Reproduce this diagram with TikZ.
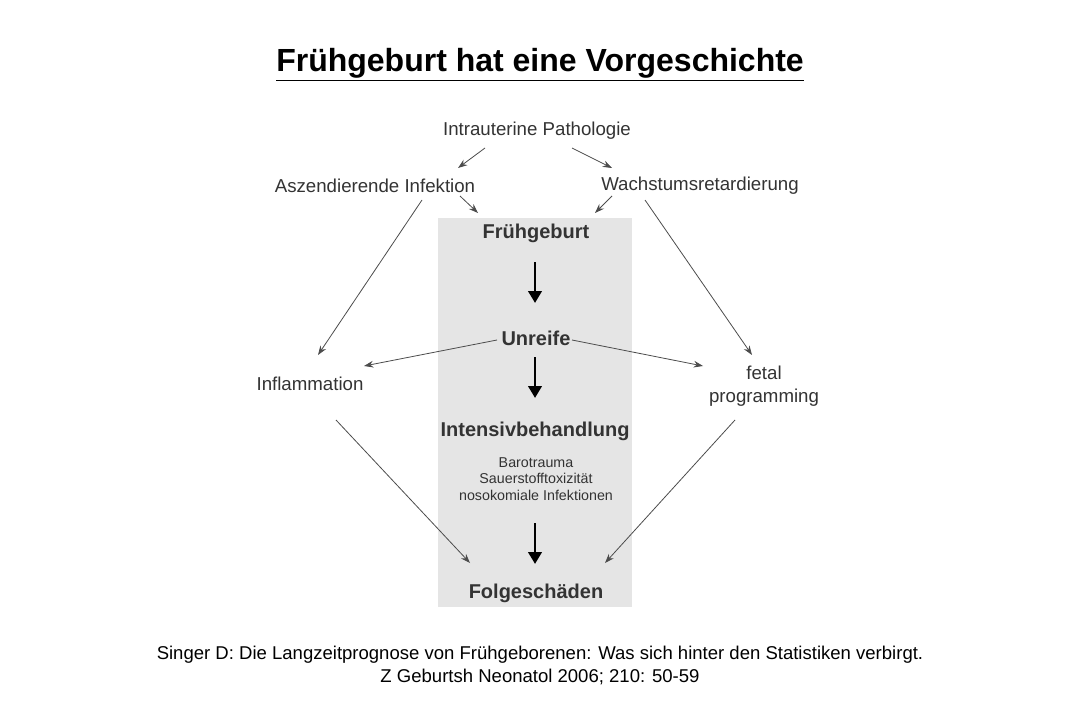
\documentclass[tikz,border=0pt]{standalone}
\usepackage{fontspec}
\setmainfont{Liberation Sans}
\usetikzlibrary{arrows.meta}
\begin{document}
\begin{tikzpicture}[x=0.75pt,y=-0.75pt,
  lbl/.style={font=\fontsize{14}{17}\selectfont, text=black!80, inner sep=1pt},
  blbl/.style={lbl, font=\fontsize{15}{17}\selectfont\bfseries},
  thin/.style={draw=black!70, line width=0.6pt, -{Stealth[length=7pt,width=5pt]}},
  thick/.style={draw=black, line width=2.2pt, -{Triangle[length=9pt,width=10pt]}}]
\useasboundingbox (0,0) rectangle (1080,720);
\fill[black!10] (438,218) rectangle (632,607);
\node (title) at (540,65) {\fontsize{24}{28}\selectfont\bfseries\underline{Frühgeburt hat eine Vorgeschichte}};
\node[lbl] (ip) at (537,131) {Intrauterine Pathologie};
\node[lbl] (ai) at (375,186) {Aszendierende Infektion};
\node[lbl] (wr) at (700,186) {Wachstumsretardierung};
\node[blbl] (fg) at (536,233) {Frühgeburt};
\node[blbl] (ur) at (536,338) {Unreife};
\node[lbl] (inf) at (310,384) {Inflammation};
\node[lbl, align=center] (fp) at (764,386) {fetal\\programming};
\node[blbl] (ib) at (535,431) {Intensivbehandlung};
\node[lbl, align=center, font=\fontsize{10.7}{12.5}\selectfont] (bt) at (536,479) {Barotrauma\\Sauerstofftoxizität\\nosokomiale Infektionen};
\node[blbl] (fs) at (536,593) {Folgeschäden};
\node (c1) at (540,655) {\fontsize{13.9}{16}\selectfont Singer D: Die Langzeitprognose von Frühgeborenen: Was sich hinter den Statistiken verbirgt.};
\node (c2) at (540,677) {\fontsize{13.9}{16}\selectfont Z Geburtsh Neonatol 2006; 210: 50-59};
\foreach \n/\a/\b/\c/\d in {a/485/148/458/168, b/572/148/612/168, c/460/196/478/213, d/612/196/595/213,
  e/422/200/318/355, f/645/200/752/355, g/497/340/364/366, h/572/340/703/366, i/336/420/470/563, j/735/420/605/563}{
  \coordinate (s\n) at (\a,\b); \coordinate (t\n) at (\c,\d);
  \draw[thin] (s\n) -- (t\n);}
\foreach \k/\ya/\yb in {1/262/303, 2/357/398, 3/523/564}{
  \coordinate (ka\k) at (535,\ya); \coordinate (kb\k) at (535,\yb);
  \draw[thick] (ka\k) -- (kb\k);}
\end{tikzpicture}
\end{document}
